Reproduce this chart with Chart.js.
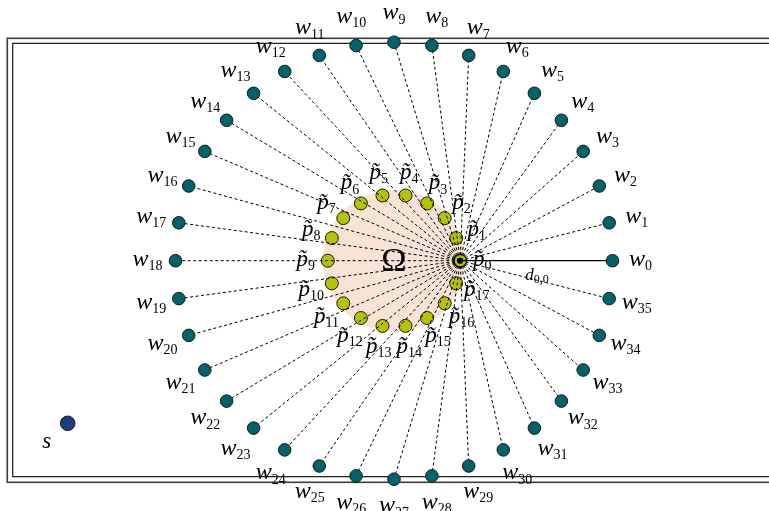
<!DOCTYPE html>
<html>
<head>
<meta charset="utf-8">
<script src="https://cdn.jsdelivr.net/npm/chart.js@4/dist/chart.umd.min.js"></script>
<style>
  html, body { margin: 0; padding: 0; background: #fff; }
  #wrap { width: 769px; height: 511px; }
</style>
</head>
<body>
<div id="wrap"><canvas id="c" width="769" height="511"></canvas></div>
<script>
// outer ring w_0..w_35 (data units, origin at centre of Ω, y up)
const wX = [218.5, 215.2, 205.3, 189.2, 167.4, 140.4, 109.3, 74.7, 37.9, 0,
            -37.9, -74.7, -109.3, -140.4, -167.4, -189.2, -205.3, -215.2, -218.5,
            -215.2, -205.3, -189.2, -167.4, -140.4, -109.3, -74.7, -37.9, 0,
            37.9, 74.7, 109.3, 140.4, 167.4, 189.2, 205.3, 215.2];
const wY = [0, 37.9, 74.7, 109.3, 140.4, 167.4, 189.2, 205.3, 215.2, 218.5,
            215.2, 205.3, 189.2, 167.4, 140.4, 109.3, 74.7, 37.9, 0,
            -37.9, -74.7, -109.3, -140.4, -167.4, -189.2, -205.3, -215.2, -218.5,
            -215.2, -205.3, -189.2, -167.4, -140.4, -109.3, -74.7, -37.9];
const wAngle = [0, 10, 20, 30, 40, 50, 60, 70, 80, 90, 100, 110, 120, 130, 140, 150, 160, 170,
                180, 190, 200, 210, 220, 230, 240, 250, 260, 270, 280, 290, 300, 310, 320, 330, 340, 350];

// inner ring p~_0..p~_17
const pX = [66.2, 62.2, 50.7, 33.1, 11.5, -11.5, -33.1, -50.7, -62.2,
            -66.2, -62.2, -50.7, -33.1, -11.5, 11.5, 33.1, 50.7, 62.2];
const pY = [0, 22.6, 42.6, 57.3, 65.2, 65.2, 57.3, 42.6, 22.6,
            0, -22.6, -42.6, -57.3, -65.2, -65.2, -57.3, -42.6, -22.6];
const pAngle = [0, 20, 40, 60, 80, 100, 120, 140, 160, 180, 200, 220, 240, 260, 280, 300, 320, 340];

// source s
const sPoint = { x: -326.3, y: -162.6 };

// region Ω and the d_{0,0} label
const omegaRadius = 71;
const dLabelPos = { x: 143, y: -15.3 };

// frame (double border), data units
const frameOuter = { left: -386.7, right: 390, top: 222.4, bottom: -221.6 };
const frameInner = { left: -381.3, right: 385, top: 217.4, bottom: -216.0 };

const TEAL = "#00636a";
const LIME = "#b4c400";
const NAVY = "#1d3c86";
const PEACH = "#f9e3d6";

const lineSets = [];
for (let i = 1; i < wX.length; i++) {
    lineSets.push({
        type: "line",
        data: [{ x: pX[0], y: pY[0] }, { x: wX[i], y: wY[i] }],
        borderColor: "#000",
        borderWidth: 1,
        borderDash: [3, 2.5],
        pointRadius: 0,
        fill: false,
        order: 2,
    });
}
lineSets.push({
    type: "line",
    data: [{ x: pX[0], y: pY[0] }, { x: wX[0], y: wY[0] }],
    borderColor: "#000",
    borderWidth: 1.2,
    pointRadius: 0,
    fill: false,
    order: 2,
});

const serif = '"Liberation Serif", "DejaVu Serif", serif';

function drawSub(ctx, base, sub, cx, cy, size, subSize) {
    ctx.font = `italic ${size}px ${serif}`;
    const bw = ctx.measureText(base).width;
    ctx.font = `${subSize}px ${serif}`;
    const sw = ctx.measureText(sub).width;
    const x0 = cx - (bw + sw) / 2;
    const by = cy + size * 0.22;
    ctx.font = `italic ${size}px ${serif}`;
    ctx.fillText(base, x0, by);
    ctx.font = `${subSize}px ${serif}`;
    ctx.fillText(sub, x0 + bw, by + subSize * 0.3);
}

const diagramPlugin = {
    id: "diagram",
    beforeDatasetsDraw(chart) {
        const { ctx, scales: { x, y } } = chart;
        ctx.save();
        // double frame
        const rect = (f) => {
            const l = x.getPixelForValue(f.left), r = x.getPixelForValue(f.right);
            const t = y.getPixelForValue(f.top), b = y.getPixelForValue(f.bottom);
            ctx.strokeRect(l, t, r - l, b - t);
        };
        ctx.strokeStyle = "#3c3c3c";
        ctx.lineWidth = 1.6;
        rect(frameOuter);
        ctx.strokeStyle = "#000";
        ctx.lineWidth = 1.1;
        rect(frameInner);
        // Ω disc
        const cx = x.getPixelForValue(0), cy = y.getPixelForValue(0);
        const r = x.getPixelForValue(omegaRadius) - cx;
        ctx.fillStyle = PEACH;
        ctx.beginPath();
        ctx.arc(cx, cy, r, 0, Math.PI * 2);
        ctx.fill();
        ctx.restore();
    },
    afterDatasetsDraw(chart) {
        const { ctx, scales: { x, y } } = chart;
        ctx.save();
        ctx.fillStyle = "#000";
        ctx.textAlign = "left";
        ctx.textBaseline = "alphabetic";
        // w labels
        for (let i = 0; i < wX.length; i++) {
            const a = wAngle[i] * Math.PI / 180;
            const lx = x.getPixelForValue(wX[i] + 28 * Math.cos(a));
            const ly = y.getPixelForValue(wY[i] + 28 * Math.sin(a));
            drawSub(ctx, "w", String(i), lx, ly, 24, 14);
        }
        // p~ labels
        for (let i = 0; i < pX.length; i++) {
            const a = pAngle[i] * Math.PI / 180;
            const lx = x.getPixelForValue(pX[i] + 22 * Math.cos(a));
            const ly = y.getPixelForValue(pY[i] + 22 * Math.sin(a));
            drawSub(ctx, "p\u0303", String(i), lx, ly, 23, 14);
        }
        // s label
        drawSub(ctx, "s", "", x.getPixelForValue(sPoint.x - 21), y.getPixelForValue(sPoint.y - 20), 23, 14);
        // d_{0,0}
        drawSub(ctx, "d", "0,0", x.getPixelForValue(dLabelPos.x), y.getPixelForValue(dLabelPos.y), 17, 12);
        // Ω
        ctx.font = `34px ${serif}`;
        ctx.textAlign = "center";
        ctx.textBaseline = "middle";
        ctx.fillText("Ω", x.getPixelForValue(0), y.getPixelForValue(0) + 1);
        ctx.restore();
    },
};

new Chart(document.getElementById("c"), {
    type: "scatter",
    data: {
        datasets: [
            {
                label: "w",
                data: wX.map((v, i) => ({ x: v, y: wY[i] })),
                backgroundColor: TEAL,
                borderColor: "#1a1a1a",
                borderWidth: 1,
                pointRadius: 6.3,
                order: 1,
            },
            {
                label: "s",
                data: [sPoint],
                backgroundColor: NAVY,
                borderColor: "#1a1a1a",
                borderWidth: 1,
                pointRadius: 7.3,
                order: 1,
            },
            ...lineSets,
            {
                label: "p",
                data: pX.map((v, i) => ({ x: v, y: pY[i] })),
                backgroundColor: LIME,
                borderColor: "#1a1a1a",
                borderWidth: 1,
                pointRadius: 6.5,
                order: 3,
            },
        ],
    },
    options: {
        responsive: false,
        animation: false,
        events: [],
        layout: { padding: 0, autoPadding: false },
        plugins: { legend: { display: false }, tooltip: { enabled: false } },
        scales: {
            x: { type: "linear", display: false, min: -394, max: 375 },
            y: { type: "linear", display: false, min: -250.3, max: 260.7 },
        },
    },
    plugins: [diagramPlugin],
});
</script>
</body>
</html>
